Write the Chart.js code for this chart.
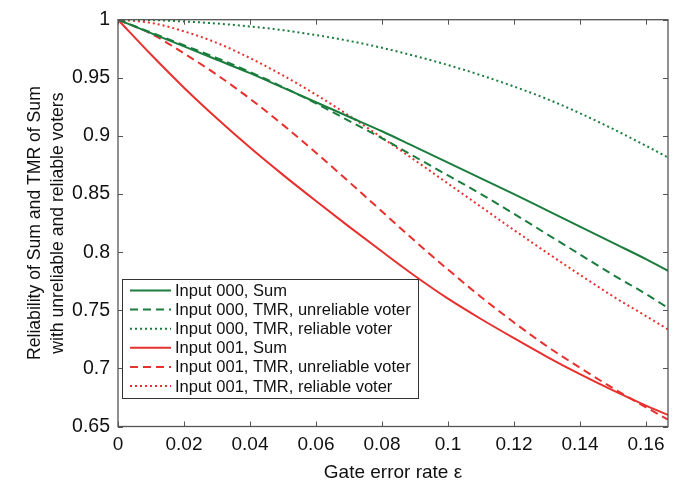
<!DOCTYPE html>
<html><head><meta charset="utf-8">
<script src="https://cdn.jsdelivr.net/npm/chart.js@4/dist/chart.umd.min.js"></script>
<style>html,body{margin:0;padding:0;background:#fff}#wrap{width:687px;height:484px}</style>
</head><body><div id="wrap"><canvas id="c" width="687" height="484"></canvas></div>
<script>
// ---- data ----
const epsilon = [0,0.01,0.02,0.03,0.04,0.05,0.06,0.07,0.08,0.09,0.10,0.11,0.12,0.13,0.14,0.15,0.16,0.16667];
const sum000      = [1.0,0.9885,0.977,0.9655,0.954,0.9415,0.929,0.9165,0.904,0.8905,0.877,0.8635,0.850,0.836,0.822,0.808,0.794,0.784];
const tmrUnrel000 = [1.0,0.989,0.978,0.967,0.955,0.942,0.928,0.913,0.898,0.882,0.866,0.850,0.833,0.8155,0.798,0.7805,0.764,0.752];
const tmrRel000   = [1.0,0.9997,0.9985,0.9967,0.9942,0.991,0.9868,0.9818,0.9758,0.9688,0.961,0.9522,0.9425,0.9318,0.9195,0.906,0.8915,0.8815];
const sum001      = [1.0,0.970,0.9415,0.915,0.890,0.8665,0.844,0.822,0.8005,0.7795,0.760,0.7425,0.726,0.710,0.695,0.681,0.668,0.660];
const tmrUnrel001 = [1.0,0.988,0.971,0.9525,0.932,0.9095,0.8855,0.8605,0.835,0.8095,0.785,0.7615,0.7395,0.719,0.7005,0.683,0.6665,0.656];
const tmrRel001   = [1.0,0.9973,0.990,0.980,0.967,0.952,0.9355,0.9175,0.8985,0.879,0.859,0.839,0.819,0.7995,0.7805,0.762,0.745,0.7335];
const seriesLabels = [
  'Input 000, Sum',
  'Input 000, TMR, unreliable voter',
  'Input 000, TMR, reliable voter',
  'Input 001, Sum',
  'Input 001, TMR, unreliable voter',
  'Input 001, TMR, reliable voter'
];
const xTicks = [0,0.02,0.04,0.06,0.08,0.10,0.12,0.14,0.16];
const xTickLabels = ['0','0.02','0.04','0.06','0.08','0.1','0.12','0.14','0.16'];
const yTicks = [0.65,0.70,0.75,0.80,0.85,0.90,0.95,1.0];
const yTickLabels = ['0.65','0.7','0.75','0.8','0.85','0.9','0.95','1'];
const xTitle = 'Gate error rate ε';
const yTitle = ['Reliability of Sum and TMR of Sum','with unreliable and reliable voters'];

// ---- styling ----
const GREEN = '#1b7d3d', RED = '#e8302e';
const FONT = '"Liberation Sans", Arial, Helvetica, sans-serif';
const styles = [
  {c:GREEN, d:[]}, {c:GREEN, d:[8,5]}, {c:GREEN, d:[2,3]},
  {c:RED, d:[]},   {c:RED, d:[8,5]},   {c:RED, d:[2,3]}
];
const allSeries = [sum000, tmrUnrel000, tmrRel000, sum001, tmrUnrel001, tmrRel001];

const datasets = allSeries.map((arr, i) => ({
  label: seriesLabels[i],
  data: arr.map((v, j) => ({x: epsilon[j], y: v})),
  borderColor: styles[i].c,
  borderDash: styles[i].d,
  borderWidth: 2,
  pointRadius: 0,
  fill: false,
  cubicInterpolationMode: 'monotone'
}));

const framePlugin = {
  id: 'frame',
  afterDraw(chart) {
    const {ctx, chartArea: a, scales: {x, y}} = chart;
    ctx.save();
    ctx.strokeStyle = '#555';
    ctx.lineWidth = 1;
    const L = 5;
    ctx.beginPath();
    xTicks.forEach(v => {
      const px = Math.round(x.getPixelForValue(v)) + 0.5;
      ctx.moveTo(px, a.bottom); ctx.lineTo(px, a.bottom - L);
      ctx.moveTo(px, a.top); ctx.lineTo(px, a.top + L);
    });
    yTicks.forEach(v => {
      const py = Math.round(y.getPixelForValue(v)) + 0.5;
      ctx.moveTo(a.left, py); ctx.lineTo(a.left + L, py);
      ctx.moveTo(a.right, py); ctx.lineTo(a.right - L, py);
    });
    ctx.stroke();
    ctx.lineWidth = 1.3;
    ctx.strokeStyle = '#555';
    ctx.strokeRect(a.left, a.top, a.right - a.left, a.bottom - a.top);

    // legend (inside plot, lower-left)
    const bx = 122, by = 279, bw = 296, bh = 119;
    ctx.fillStyle = '#fff';
    ctx.fillRect(bx, by, bw, bh);
    ctx.lineWidth = 1;
    ctx.strokeStyle = '#333';
    ctx.strokeRect(bx + 0.5, by + 0.5, bw, bh);
    ctx.font = '16.5px ' + FONT;
    ctx.textBaseline = 'middle';
    ctx.textAlign = 'left';
    chart.data.datasets.forEach((ds, i) => {
      const cy = by + 11.5 + i * 19.1;
      ctx.beginPath();
      ctx.setLineDash(ds.borderDash || []);
      ctx.strokeStyle = ds.borderColor;
      ctx.lineWidth = 2;
      ctx.moveTo(130, cy); ctx.lineTo(171, cy);
      ctx.stroke();
      ctx.setLineDash([]);
      ctx.fillStyle = '#111';
      ctx.fillText(ds.label, 175, cy + 1);
    });
    ctx.restore();
  }
};

new Chart(document.getElementById('c'), {
  type: 'line',
  data: { datasets },
  options: {
    responsive: false,
    animation: false,
    devicePixelRatio: 1,
    layout: { padding: { top: 13.5, right: 19, left: 0, bottom: 0 } },
    plugins: { legend: { display: false }, tooltip: { enabled: false } },
    scales: {
      x: {
        type: 'linear', min: 0, max: 1/6,
        afterBuildTicks: s => { s.ticks = xTicks.map(v => ({value: v})); },
        afterFit: s => { s.height = 57.5; },
        grid: { display: false, drawTicks: false }, border: { display: false },
        ticks: { color: '#111', font: { family: FONT, size: 19 }, padding: 7,
                 maxRotation: 0, autoSkip: false,
                 callback: (v, i) => xTickLabels[i] },
        title: { display: true, text: xTitle, color: '#111',
                 font: { family: FONT, size: 19 }, padding: { top: 0, bottom: 0 } }
      },
      y: {
        type: 'linear', min: 0.65, max: 1,
        afterBuildTicks: s => { s.ticks = yTicks.map(v => ({value: v})); },
        afterFit: s => { s.width = 118; },
        grid: { display: false, drawTicks: false }, border: { display: false },
        ticks: { color: '#111', font: { family: FONT, size: 19.5 }, padding: 8,
                 autoSkip: false,
                 callback: (v, i) => yTickLabels[i] },
        title: { display: true, text: yTitle, color: '#111',
                 font: { family: FONT, size: 17.6, lineHeight: 1.3 }, padding: { top: 23.5, bottom: 0 } }
      }
    }
  },
  plugins: [framePlugin]
});
</script></body></html>
